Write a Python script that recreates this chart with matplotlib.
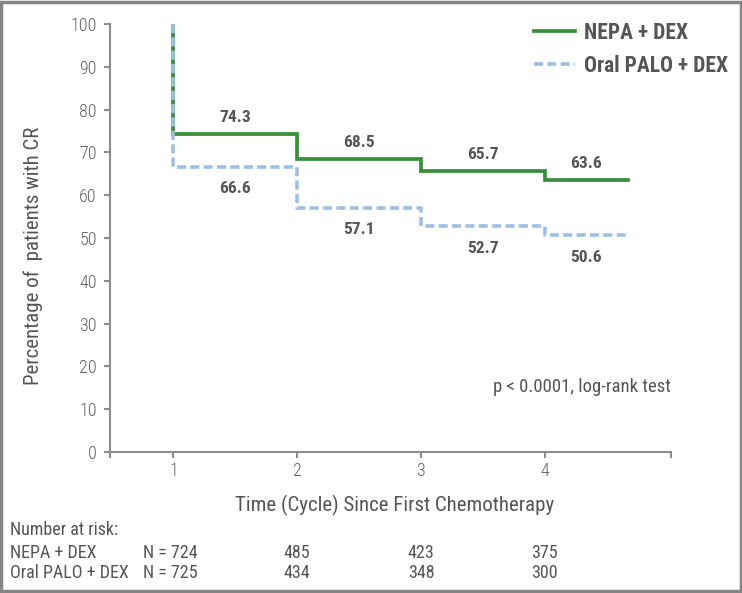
import matplotlib
matplotlib.use("Agg")
import matplotlib.pyplot as plt
import matplotlib.transforms as mtransforms
from matplotlib.patches import Rectangle

plt.rcParams['font.family'] = ['Roboto Condensed', 'Liberation Sans Narrow', 'Roboto', 'DejaVu Sans']

# step data (cycle, % with CR)
cycles = [1, 2, 3, 4]
end_cycle = 4.67
nepa_cr = [74.3, 68.5, 65.7, 63.6]
palo_cr = [66.6, 57.1, 52.7, 50.6]

# number at risk
risk_rows = ["NEPA + DEX", "Oral PALO + DEX"]
nepa_risk = [724, 485, 423, 375]
palo_risk = [725, 434, 348, 300]

green = '#3a8f3c'
blue = '#9dbfe4'
text_col = '#555555'
axis_col = '#8c8c8c'


def step_xy(vals):
    xs = [cycles[0], cycles[0]]
    ys = [100, vals[0]]
    for i in range(1, len(cycles)):
        xs += [cycles[i], cycles[i]]
        ys += [vals[i - 1], vals[i]]
    xs.append(end_cycle)
    ys.append(vals[-1])
    return xs, ys


fig = plt.figure(figsize=(7.42, 5.93), dpi=100)
ax = fig.add_axes([0.1482, 0.2378, 0.756, 0.7218])

gx, gy = step_xy(nepa_cr)
bx, by = step_xy(palo_cr)
ax.plot(gx, gy, color=green, lw=2.7, solid_joinstyle='miter', label='NEPA + DEX', zorder=3)
ax.plot(bx, by, color=blue, lw=2.6, linestyle=(0, (2.5, 1.2)), label='Oral PALO + DEX', zorder=4)

# value labels
for i, c in enumerate(cycles):
    right = cycles[i + 1] if i + 1 < len(cycles) else end_cycle
    mx = (c + right) / 2
    ax.text(mx, nepa_cr[i] + 3.9, f"{nepa_cr[i]}", ha='center', va='center',
            fontsize=12.5, fontweight='bold', color=text_col)
    ax.text(mx, palo_cr[i] - 5.1, f"{palo_cr[i]}", ha='center', va='center',
            fontsize=12.5, fontweight='bold', color=text_col)

ax.set_xlim(0.487, 5.02)
ax.set_ylim(0, 100)
ax.set_xticks(cycles)
ax.set_xticks([0.487, 5.02], minor=True)
ax.set_yticks(range(0, 101, 10))
ax.tick_params(axis='both', which='both', colors=axis_col, labelcolor='#606060',
               labelsize=13, length=4.5, width=1.5)
ax.tick_params(axis='x', pad=3)
ax.tick_params(axis='y', pad=5)
for lab in ax.get_xticklabels() + ax.get_yticklabels():
    lab.set_fontweight('light')
for s in ['top', 'right']:
    ax.spines[s].set_visible(False)
for s in ['left', 'bottom']:
    ax.spines[s].set_color(axis_col)
    ax.spines[s].set_linewidth(1.5)

ax.set_ylabel("Percentage of  patients with CR", fontsize=15, color=text_col)
ax.yaxis.set_label_coords(-0.136, 0.458)
ax.yaxis.label.set_va('center')
ax.set_xlabel("Time (Cycle) Since First Chemotherapy", fontsize=15, color=text_col)
ax.xaxis.set_label_coords(0.508, -0.124)
ax.xaxis.label.set_va('center')

ax.text(5.02, 15.2, "p < 0.0001, log-rank test", ha='right', va='center',
        fontsize=13.5, color=text_col)

leg = ax.legend(loc='upper left', bbox_to_anchor=(0.72, 0.963), bbox_transform=fig.transFigure,
                frameon=False, borderpad=0, borderaxespad=0,
                handlelength=1.9, handletextpad=0.4, labelspacing=0.5,
                prop={'size': 15.5, 'weight': 'bold'})
for t in leg.get_texts():
    t.set_color(text_col)

# number at risk table
trans = mtransforms.blended_transform_factory(ax.transData, fig.transFigure)
fig.text(0.0135, 0.107, "Number at risk:", fontsize=13, color=text_col, va='center')
row_y = [0.068, 0.034]
for name, vals, y in zip(risk_rows, [nepa_risk, palo_risk], row_y):
    fig.text(0.0135, y, name, fontsize=13, color=text_col, va='center')
    fig.text(0.193, y, f"N = {vals[0]}", fontsize=13, color=text_col, va='center')
    for c, v in zip(cycles[1:], vals[1:]):
        ax.text(c, y, f"{v}", transform=trans, ha='center', va='center',
                fontsize=13, color=text_col)

# outer frame
fig.patches.append(Rectangle((0.002, 0.003), 0.996, 0.994, transform=fig.transFigure,
                             fill=False, edgecolor='#858585', linewidth=2.5))

fig.savefig("out.png", dpi=100)
